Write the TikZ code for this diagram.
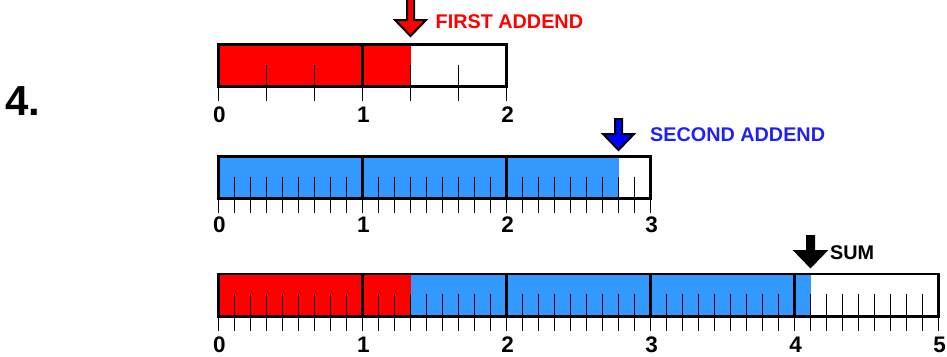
\documentclass[tikz,border=0pt]{standalone}
\usepackage{fontspec}
\setmainfont{Liberation Sans}

\definecolor{addendred}{HTML}{FF0000}
\definecolor{addendblue}{HTML}{3399FF}
\definecolor{arrowblue}{HTML}{0000FF}
\definecolor{labelblue}{HTML}{2020F8}

\tikzset{
    barline/.style={line width=2.6pt},
    tickline/.style={line width=1.4pt},
    ticklabel/.style={font=\bfseries\fontsize{22.5}{22}\selectfont, inner sep=0pt},
    addlabel/.style={font=\bfseries\fontsize{19.8}{20}\selectfont, anchor=base west, inner sep=0pt},
    blockarrow/.style={draw=black, line width=2pt, line join=miter},
}

% block arrow pointing down: x, tip y, fill colour, shaft top y
\newcommand{\downarrowat}[4]{%
    \draw[blockarrow, fill=#3] (#1-3.5,#4) -- (#1-3.5,#2-16) -- (#1-15.5,#2-16)
        -- (#1,#2) -- (#1+15.5,#2-16) -- (#1+3.5,#2-16) -- (#1+3.5,#4) -- cycle;}

\begin{document}
\begin{tikzpicture}[x=1pt,y=-1pt]

    % Page size of the reference
    \useasboundingbox (0,0) rectangle (947,356);

    % Left end of every bar, and the length of one unit
    \def\xo{218.5}
    \def\unit{144}

    % Exercise number
    \node[anchor=base west, inner sep=0pt, font=\bfseries\fontsize{42}{42}\selectfont] (num) at (5,115) {4.};

    % ---------- First addend: 4/3 ----------
    \fill[addendred] (\xo,44.5) rectangle (\xo+4/3*\unit,86.5);
    \foreach \k in {0,...,6}
        \draw[tickline] (\xo+\k/3*\unit,65) -- (\xo+\k/3*\unit,101);
    \draw[barline] (\xo,44.5) rectangle (\xo+2*\unit,86.5);
    \draw[barline] (\xo+\unit,44.5) -- (\xo+\unit,86.5);
    \foreach \n in {0,1,2}
        \node[ticklabel] (a\n) at (\xo+\n*\unit+1,115) {\n};

    \downarrowat{410.5}{36}{addendred}{-3}
    \node[addlabel, text=addendred] (first) at (435.5,28) {FIRST ADDEND};

    % ---------- Second addend: 25/9 ----------
    \fill[addendblue] (\xo,156.5) rectangle (\xo+25/9*\unit,198.5);
    \foreach \k in {0,...,27}
        \draw[tickline] (\xo+\k/9*\unit,176.5) -- (\xo+\k/9*\unit,213);
    \draw[barline] (\xo,156.5) rectangle (\xo+3*\unit,198.5);
    \foreach \n in {1,2}
        \draw[barline] (\xo+\n*\unit,156.5) -- (\xo+\n*\unit,198.5);
    \foreach \n in {0,1,2,3}
        \node[ticklabel] (b\n) at (\xo+\n*\unit+1,225) {\n};

    \downarrowat{618.5}{150}{arrowblue}{119}
    \node[addlabel, text=labelblue] (second) at (650,141) {SECOND ADDEND};

    % ---------- Sum: 4/3 + 25/9 = 37/9 ----------
    \fill[addendred] (\xo,274) rectangle (\xo+4/3*\unit,316.5);
    \fill[addendblue] (\xo+4/3*\unit,274) rectangle (\xo+37/9*\unit,316.5);
    \foreach \k in {0,...,45}
        \draw[tickline] (\xo+\k/9*\unit,294) -- (\xo+\k/9*\unit,330.5);
    \draw[barline] (\xo,274) rectangle (\xo+5*\unit,316.5);
    \foreach \n in {1,...,4}
        \draw[barline] (\xo+\n*\unit,274) -- (\xo+\n*\unit,316.5);
    \foreach \n in {0,...,5}
        \node[ticklabel] (c\n) at (\xo+\n*\unit+1,345) {\n};

    \downarrowat{810.5}{267}{black}{236}
    \node[addlabel] (sum) at (830,259) {SUM};

\end{tikzpicture}
\end{document}
